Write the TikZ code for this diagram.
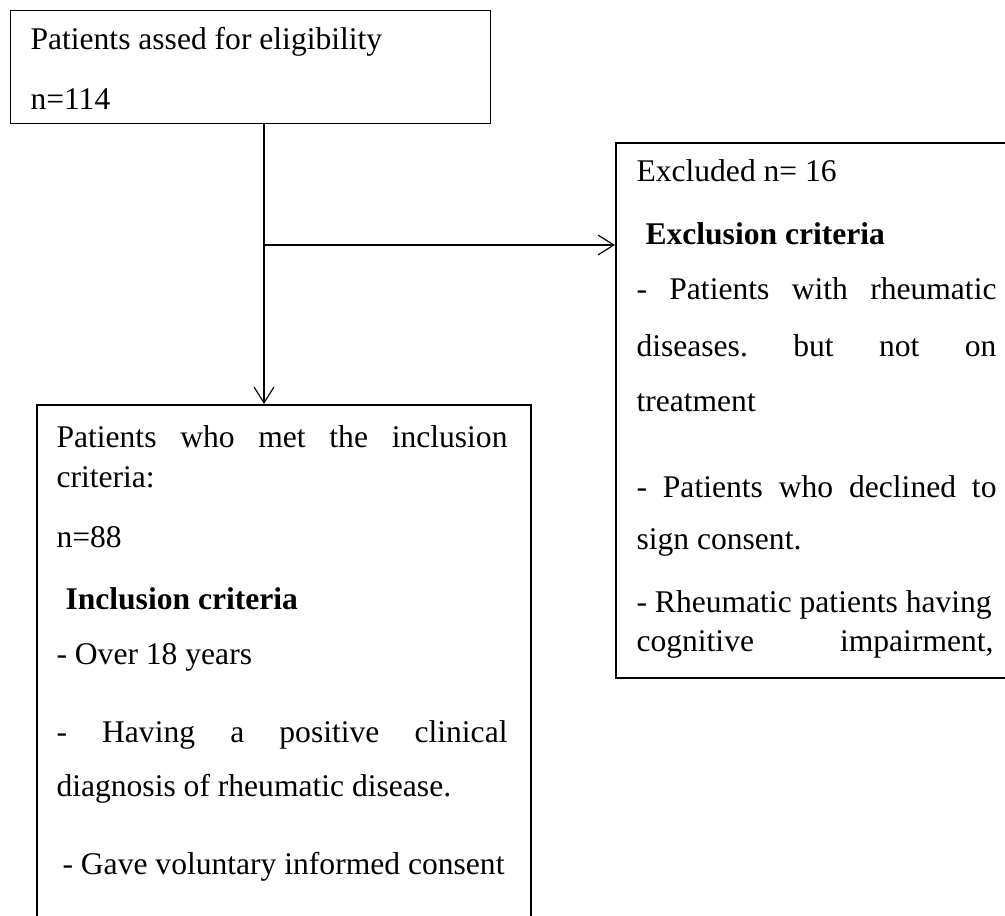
\documentclass[tikz,border=0pt]{standalone}
\usepackage{fontspec}
\setmainfont{Liberation Serif}
\usepackage{tikz}
\usetikzlibrary{arrows.meta,positioning,calc}

\newdimen\px \px=0.38pt
% a line stretched to a given width (in px)
\newcommand{\jline}[2]{\makebox[#1\px][s]{#2}}

\begin{document}
\begin{tikzpicture}[x=0.38pt,y=-0.38pt,
    font=\fontsize{12}{14}\selectfont\frenchspacing,
    box/.style={draw, line width=0.8pt, inner sep=0pt, anchor=north west},
    txt/.style={anchor=base west, inner sep=0pt},
    arr/.style={-{Straight Barb[length=6pt,width=7.5pt]}, line width=0.45pt}]
    \useasboundingbox (0,0) rectangle (1005,916);
    \clip (0,0) rectangle (1005,916);

    % Boxes
    \node[box, line width=0.45pt, minimum width=480\px, minimum height=113\px] (elig) at (10,10) {};
    \node[box, minimum width=430\px, minimum height=535\px] (excl) at (615,142) {};
    \node[box, minimum width=494\px, minimum height=560\px] (incl) at (36,404) {};

    % Eligibility
    \node[txt] (eligA) at (30,50) {Patients assed for eligibility};
    \node[txt] (eligB) at (30,110) {n=114};

    % Excluded
    \node[txt] (exA) at (636,182) {Excluded n= 16};
    \node[txt] (exB) at (645,245) {\textbf{Exclusion criteria}};
    \node[txt] (exC) at (636,300) {\jline{360}{- Patients with rheumatic}};
    \node[txt] (exD) at (636,357) {\jline{360}{diseases. but not on}};
    \node[txt] (exE) at (636,412) {treatment};
    \node[txt] (exF) at (636,498) {\jline{360}{- Patients who declined to}};
    \node[txt] (exG) at (636,550) {sign consent.};
    \node[txt] (exH) at (636,613) {- Rheumatic patients having};
    \node[txt] (exI) at (636,652) {\jline{357}{cognitive impairment,}};

    % Included
    \node[txt] (inA) at (56,448) {\jline{451}{Patients who met the inclusion}};
    \node[txt] (inB) at (56,488) {criteria:};
    \node[txt] (inC) at (56,548) {n=88};
    \node[txt] (inD) at (65,610) {\textbf{Inclusion criteria}};
    \node[txt] (inE) at (56,665) {- Over 18 years};
    \node[txt] (inF) at (56,743) {\jline{451}{- Having a positive clinical}};
    \node[txt] (inG) at (56,797) {diagnosis of rheumatic disease.};
    \node[txt] (inH) at (62,875) {- Gave voluntary informed consent};

    % Arrows
    \coordinate (split) at (264,245);
    \draw[arr] (split |- elig.south) -- (split |- incl.north);
    \draw[arr] (split) -- (split -| excl.west);
\end{tikzpicture}
\end{document}
